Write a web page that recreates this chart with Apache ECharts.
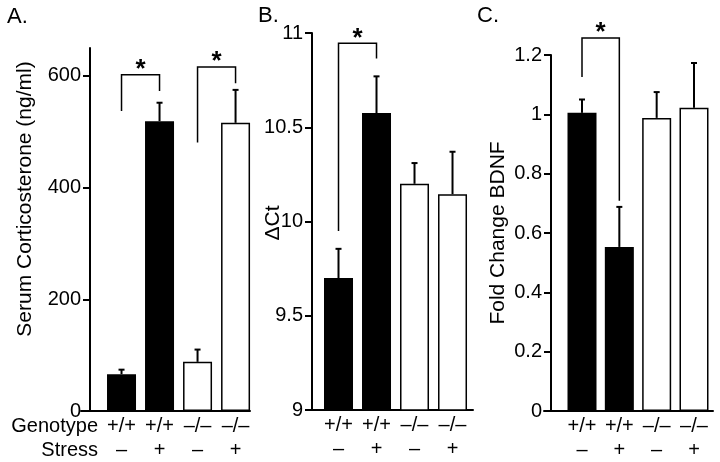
<!DOCTYPE html>
<html>
<head>
<meta charset="utf-8">
<script src="https://cdn.jsdelivr.net/npm/echarts@6/dist/echarts.min.js"></script>
<style>
  html, body { margin: 0; padding: 0; background: #fff; }
  #chart { width: 720px; height: 462px; }
</style>
</head>
<body>
<div id="chart"></div>
<script>
const genotype = ['+/+', '+/+', '–/–', '–/–'];
const stress = ['–', '+', '–', '+'];
const barFill = ['#000', '#000', '#fff', '#fff'];

// A. serum corticosterone (ng/ml), mean + SEM
const cortMean = [66, 519, 88, 516];
const cortSem = [8, 33, 22, 59];
const cortTicks = [0, 200, 400, 600];
// B. delta Ct
const ctMean = [9.70, 10.575, 10.20, 10.145];
const ctSem = [0.155, 0.195, 0.11, 0.225];
const ctTicks = [9, 9.5, 10, 10.5, 11];
// C. fold change BDNF
const bdnfMean = [1.005, 0.553, 0.988, 1.022];
const bdnfSem = [0.045, 0.135, 0.087, 0.151];
const bdnfTicks = [0, 0.2, 0.4, 0.6, 0.8, 1, 1.2];

// significance brackets: [left bar, right bar, left leg end, top, right leg end]
const cortBrackets = [[0, 1, 537, 602, 573], [2, 3, 481, 616, 587]];
const ctBrackets = [[0, 1, 9.95, 10.945, 10.865]];
const bdnfBrackets = [[0, 1, 1.126, 1.257, 0.709]];

const FONT = "'Liberation Sans', Arial, Helvetica, sans-serif";

const panels = [
  { grid: { left: 81, top: 48, width: 169, height: 363 }, xMin: -1.066, xMax: 3.38, yMin: 0, yMax: 650, offset: -9,
    ticks: cortTicks, mean: cortMean, sem: cortSem, brackets: cortBrackets },
  { grid: { left: 307, top: 33, width: 166, height: 377 }, xMin: -0.829, xMax: 3.539, yMin: 9, yMax: 11, offset: -5,
    ticks: ctTicks, mean: ctMean, sem: ctSem, brackets: ctBrackets },
  { grid: { left: 544, top: 55, width: 169, height: 357 }, xMin: -1.018, xMax: 3.509, yMin: 0, yMax: 1.2, offset: -7,
    ticks: bdnfTicks, mean: bdnfMean, sem: bdnfSem, brackets: bdnfBrackets },
];

// error bar: upper whisker only, with short cap
function renderErr(params, api) {
  const lo = api.coord([api.value(0), api.value(1)]);
  const hi = api.coord([api.value(0), api.value(2)]);
  return {
    type: 'group',
    children: [
      { type: 'line', shape: { x1: lo[0], y1: lo[1], x2: hi[0], y2: hi[1] }, style: { stroke: '#000', lineWidth: 2 } },
      { type: 'line', shape: { x1: hi[0] - 3, y1: hi[1], x2: hi[0] + 3, y2: hi[1] }, style: { stroke: '#000', lineWidth: 2 } },
    ],
  };
}

function renderBracket(params, api) {
  const xl = api.value(0), xr = api.value(1);
  const a = api.coord([xl, api.value(2)]);
  const b = api.coord([xl, api.value(3)]);
  const c = api.coord([xr, api.value(3)]);
  const d = api.coord([xr, api.value(4)]);
  return {
    type: 'group',
    children: [
      { type: 'polyline', shape: { points: [a, b, c, d] }, style: { stroke: '#000', lineWidth: 1.5, fill: null } },
      { type: 'text', x: (b[0] + c[0]) / 2, y: b[1] + 8,
        style: { text: '*', fontSize: 26, fontFamily: FONT, fontWeight: 'bold', align: 'center', verticalAlign: 'bottom', fill: '#000' } },
    ],
  };
}

const grid = [], xAxis = [], yAxis = [], series = [];
panels.forEach((p, i) => {
  grid.push(p.grid);
  xAxis.push({
    gridIndex: i, type: 'value', min: p.xMin, max: p.xMax,
    splitLine: { show: false },
    axisLine: { onZero: false, lineStyle: { color: '#000', width: 2 } },
    axisTick: { show: false },
    axisLabel: {
      customValues: [0, 1, 2, 3],
      formatter: (v) => genotype[v] + '\n' + stress[v],
      color: '#000', fontSize: 20, fontFamily: FONT, lineHeight: 24, margin: 3,
    },
  });
  yAxis.push({
    gridIndex: i, type: 'value', min: p.yMin, max: p.yMax, offset: p.offset,
    splitLine: { show: false },
    axisLine: { show: true, onZero: false, lineStyle: { color: '#000', width: 2 } },
    axisTick: { show: true, length: 7, customValues: p.ticks, lineStyle: { color: '#000', width: 2 } },
    axisLabel: { customValues: p.ticks, color: '#000', fontSize: 20, fontFamily: FONT, margin: 9 },
  });
  series.push({
    type: 'bar', xAxisIndex: i, yAxisIndex: i, barWidth: 29,
    itemStyle: { borderColor: '#000', borderWidth: 1.5 },
    data: p.mean.map((v, k) => ({ value: [k, v], itemStyle: { color: barFill[k] } })),
  });
  series.push({
    type: 'custom', xAxisIndex: i, yAxisIndex: i, clip: false, z: 3,
    renderItem: renderErr,
    data: p.mean.map((v, k) => [k, v, v + p.sem[k]]),
  });
  series.push({
    type: 'custom', xAxisIndex: i, yAxisIndex: i, clip: false, z: 3,
    renderItem: renderBracket,
    data: p.brackets,
  });
});

const txt = (text, x, y, extra) => ({
  type: 'text', x, y,
  style: Object.assign({ text, fontSize: 20, fontFamily: FONT, fill: '#000' }, extra),
});

const chart = echarts.init(document.getElementById('chart'), null, { renderer: 'canvas' });
chart.setOption({
  animation: false,
  backgroundColor: '#fff',
  grid, xAxis, yAxis, series,
  graphic: [
    txt('A.', 7, 17, { fontSize: 22, verticalAlign: 'middle' }),
    txt('B.', 258, 16, { fontSize: 22, verticalAlign: 'middle' }),
    txt('C.', 477, 16, { fontSize: 22, verticalAlign: 'middle' }),
    txt('Genotype', 98, 426, { align: 'right', verticalAlign: 'middle' }),
    txt('Stress', 98, 450, { align: 'right', verticalAlign: 'middle' }),
    Object.assign(txt('Serum Corticosterone (ng/ml)', 25, 199, { fontSize: 21, align: 'center', verticalAlign: 'middle' }), { rotation: Math.PI / 2 }),
    Object.assign(txt('ΔCt', 273, 223, { fontSize: 21, align: 'center', verticalAlign: 'middle' }), { rotation: Math.PI / 2 }),
    Object.assign(txt('Fold Change BDNF', 498, 233, { fontSize: 21, align: 'center', verticalAlign: 'middle' }), { rotation: Math.PI / 2 }),
  ],
});
</script>
</body>
</html>
